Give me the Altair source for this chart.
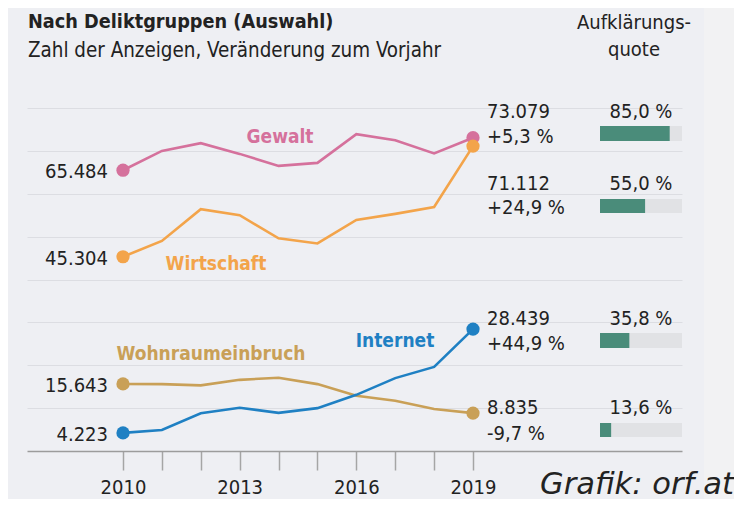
import altair as alt
import pandas as pd

# ---------------- data ----------------
years = list(range(2010, 2020))
gewalt = [65484, 70000, 71800, 69300, 66500, 67200, 73900, 72500, 69400, 73079]
wirtschaft = [45304, 49000, 56400, 55000, 49600, 48400, 53900, 55300, 56900, 71112]
wohnraum = [15643, 15600, 15300, 16600, 17100, 15600, 12900, 11700, 9800, 8835]
internet = [4223, 4900, 8800, 10100, 8900, 10000, 13100, 17000, 19600, 28439]

series_names = ["Gewalt", "Wirtschaft", "Wohnraumeinbruch", "Internet"]
series_colors = ["#D5719C", "#F3A44A", "#C9A057", "#1F80C3"]
change_2019 = ["+5,3 %", "+24,9 %", "-9,7 %", "+44,9 %"]
clearance_rate = [85.0, 55.0, 13.6, 35.8]
labelled_years = [2010, 2013, 2016, 2019]
grid_values = [10000, 20000, 30000, 40000, 50000, 60000, 70000, 80000]

title_text = "Nach Deliktgruppen (Auswahl)"
subtitle_text = "Zahl der Anzeigen, Veränderung zum Vorjahr"
header_lines = ["Aufklärungs-", "quote"]
credit_text = "Grafik: orf.at"

# ---------------- layout / style ----------------
FONT = "Liberation Sans Narrow, DejaVu Sans Condensed, Roboto, sans-serif"
BG = "#EEEFF3"
TXT = "#222222"
NUM_SIZE = 20
PAD_L, PAD_T, PAD_R, PAD_B = 19, 0, 52, 48
W, H = 655, 443


def vx(px):  # page x -> view x
    return px - 8 - PAD_L


def vy(py):  # page y -> view y
    return py - 8 - PAD_T


# pixel slots of the right-hand label blocks (page coords): total, change, bar top, bar bottom
slots = {
    "Gewalt": (118, 143, 126, 141),
    "Wirtschaft": (190, 214, 199, 213),
    "Wohnraumeinbruch": (414, 440, 423, 437),
    "Internet": (325, 350, 333, 348),
}
# series name labels (page coords: center x, baseline y)
name_pos = {
    "Gewalt": (280, 143),
    "Wirtschaft": (216, 270),
    "Wohnraumeinbruch": (211, 360),
    "Internet": (395, 347),
}

# ---------------- tables ----------------
values = {"Gewalt": gewalt, "Wirtschaft": wirtschaft,
          "Wohnraumeinbruch": wohnraum, "Internet": internet}
long = pd.DataFrame(
    [{"series": s, "year": y, "value": v}
     for s in series_names for y, v in zip(years, values[s])]
)
long["label"] = long["value"].map(lambda v: f"{v:,}".replace(",", "."))

ann = pd.DataFrame({
    "series": series_names,
    "total": [f"{values[s][-1]:,}".replace(",", ".") for s in series_names],
    "change": change_2019,
    "quote": clearance_rate,
    "quote_label": [f"{q:.1f}".replace(".", ",") + " %" for q in clearance_rate],
})
ann["y_total"] = [vy(slots[s][0]) for s in series_names]
ann["y_change"] = [vy(slots[s][1]) for s in series_names]
ann["y_b0"] = [vy(slots[s][2]) for s in series_names]
ann["y_b1"] = [vy(slots[s][3]) for s in series_names]
ann["x_lab"] = vx(487)
ann["zero"] = 0.0
ann["full"] = 100.0
ann["mid"] = 50.0

names = pd.DataFrame({
    "series": series_names,
    "nx": [vx(name_pos[s][0]) for s in series_names],
    "ny": [vy(name_pos[s][1]) for s in series_names],
})

# ---------------- scales ----------------
px_per_year = (473 - 123) / 9
x0 = 2010 - vx(123) / px_per_year
x1 = x0 + W / px_per_year
xs = alt.Scale(domain=[x0, x1], nice=False, zero=False)
ys = alt.Scale(domain=[0, 80000 * H / (451 - 108)], nice=False, zero=False)
cs = alt.Scale(domain=series_names, range=series_colors)
qs = alt.Scale(domain=[0, 100], range=[vx(600), vx(682)], nice=False, zero=False)

x_axis = alt.Axis(
    values=years, format="d", title=None, grid=False,
    labelExpr="indexof([" + ",".join(str(y) for y in labelled_years) + "], datum.value) >= 0 ? toString(datum.value) : ''",
    labelOverlap=False, labelFlush=False,
    domainColor="#9C9C9C", domainWidth=1.5,
    tickColor="#A5A5A5", tickWidth=1.5, tickSize=19,
    labelFont=FONT, labelFontSize=20, labelColor=TXT, labelPadding=7,
)
y_axis = alt.Axis(values=grid_values, title=None, labels=False, ticks=False,
                  domain=False, grid=True, gridColor="#DCDDE2", gridWidth=1)

base = alt.Chart(long)

strip = alt.Chart(pd.DataFrame({"a": [0]})).mark_rect(color="#F2F2F3").encode(
    x=alt.value(vx(704)), x2=alt.value(W + PAD_R), y=alt.value(-PAD_T), y2=alt.value(H + PAD_B)
)

lines = base.mark_line(strokeWidth=2.6).encode(
    x=alt.X("year:Q", scale=xs, axis=x_axis),
    y=alt.Y("value:Q", scale=ys, axis=y_axis),
    color=alt.Color("series:N", scale=cs, legend=None),
)
points = base.transform_filter("datum.year == 2010 || datum.year == 2019").mark_circle(
    size=175, opacity=1).encode(
    x=alt.X("year:Q", scale=xs),
    y=alt.Y("value:Q", scale=ys),
    color=alt.Color("series:N", scale=cs, legend=None),
)
left_labels = base.transform_filter("datum.year == 2010").mark_text(
    align="right", baseline="middle", dx=-15, dy=2, font=FONT, fontSize=NUM_SIZE, color=TXT
).encode(
    x=alt.X("year:Q", scale=xs),
    y=alt.Y("value:Q", scale=ys),
    text="label:N",
)
line_layer = alt.layer(lines, points, left_labels)

a = alt.Chart(ann)
track = a.mark_rect(color="#E1E2E5").encode(
    x=alt.X("zero:Q", scale=qs, axis=None), x2="full:Q",
    y=alt.Y("y_b0:Q", scale=None), y2="y_b1:Q",
)
bar = a.mark_rect(color="#4A8C7A").encode(
    x=alt.X("zero:Q", scale=qs, axis=None), x2="quote:Q",
    y=alt.Y("y_b0:Q", scale=None), y2="y_b1:Q",
)
quote_text = a.mark_text(align="center", baseline="alphabetic", font=FONT,
                         fontSize=NUM_SIZE, color=TXT).encode(
    x=alt.X("mid:Q", scale=qs, axis=None),
    y=alt.Y("y_total:Q", scale=None),
    text="quote_label:N",
)
bar_layer = alt.layer(track, bar, quote_text)

total_text = a.mark_text(align="left", baseline="alphabetic", font=FONT,
                         fontSize=NUM_SIZE, color=TXT).encode(
    x=alt.X("x_lab:Q", scale=None), y=alt.Y("y_total:Q", scale=None), text="total:N")
change_text = a.mark_text(align="left", baseline="alphabetic", font=FONT,
                          fontSize=NUM_SIZE, color=TXT).encode(
    x=alt.X("x_lab:Q", scale=None), y=alt.Y("y_change:Q", scale=None), text="change:N")
name_text = alt.Chart(names).mark_text(align="center", baseline="alphabetic", font=FONT,
                                        fontSize=19, fontWeight="bold").encode(
    x=alt.X("nx:Q", scale=None), y=alt.Y("ny:Q", scale=None), text="series:N",
    color=alt.Color("series:N", scale=cs, legend=None),
)


def txt(s, px, py, size, align="left", weight="normal", style="normal", font=FONT):
    return alt.Chart(pd.DataFrame({"t": [s]})).mark_text(
        align=align, baseline="alphabetic", font=font, fontSize=size,
        fontWeight=weight, fontStyle=style, color=TXT
    ).encode(x=alt.value(vx(px)), y=alt.value(vy(py)), text="t:N")


texts = alt.layer(
    txt(title_text, 28, 28, 19.7, weight="bold"),
    txt(subtitle_text, 28, 57, 20.4),
    txt(header_lines[0], 634, 29, 20, align="center"),
    txt(header_lines[1], 634, 56, 20, align="center"),
    txt(credit_text, 734, 494, 30.5, align="right", style="oblique",
        font="DejaVu Sans, sans-serif"),
)

chart = alt.layer(strip, line_layer, bar_layer, total_text, change_text, name_text, texts).resolve_scale(
    x="independent", y="independent", color="shared"
).properties(
    width=W, height=H,
    padding={"left": PAD_L, "top": PAD_T, "right": PAD_R, "bottom": PAD_B},
    autosize=alt.AutoSizeParams(type="none"),
    background=BG,
).configure_view(stroke=None)

chart.save("out.html", embed_options={"renderer": "svg", "actions": False})
